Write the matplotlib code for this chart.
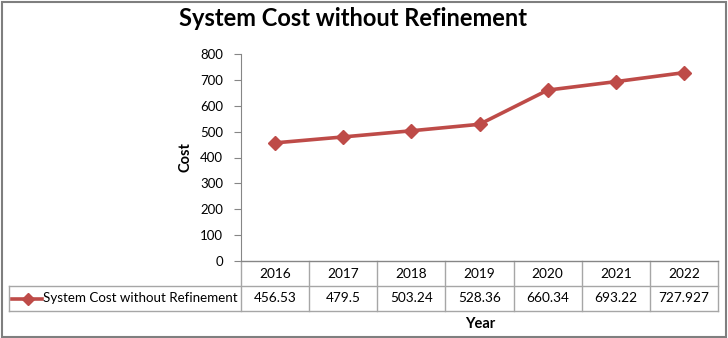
import matplotlib
matplotlib.use("Agg")
import matplotlib.pyplot as plt
import matplotlib.transforms as mtransforms
from matplotlib.lines import Line2D
from matplotlib.patches import Rectangle

years = ["2016", "2017", "2018", "2019", "2020", "2021", "2022"]
cost = [456.53, 479.5, 503.24, 528.36, 660.34, 693.22, 727.927]
cost_labels = ["456.53", "479.5", "503.24", "528.36", "660.34", "693.22", "727.927"]
series_name = "System Cost without Refinement"
title = "System Cost without Refinement"
yticks = [0, 100, 200, 300, 400, 500, 600, 700, 800]

plt.rcParams['font.family'] = ['Lato', 'DejaVu Sans']

W, H = 728, 338
fig = plt.figure(figsize=(W / 100, H / 100), dpi=100)
fig.patch.set_facecolor("white")

def fx(px):
    return px / W

def fy(py):
    return 1 - py / H

left, right, top, bottom = 241, 718, 54, 261
ax = fig.add_axes([fx(left), fy(bottom), fx(right - left), (bottom - top) / H])

line_color = "#BE4B48"
grid_color = "#A6A6A6"
axis_color = "#868686"

x = list(range(len(years)))
ax.plot(x, cost, color=line_color, lw=2.6, marker="D", markersize=7,
        markerfacecolor=line_color, markeredgecolor=line_color, clip_on=False, zorder=3)

ax.set_xlim(-0.5, len(years) - 0.5)
ax.set_ylim(0, 800)
ax.set_yticks(yticks)
ax.set_yticklabels([str(t) for t in yticks], fontsize=9.5)
ax.set_xticks([])
for s in ["top", "right"]:
    ax.spines[s].set_visible(False)
ax.spines["left"].set_color(axis_color)
ax.spines["bottom"].set_color(axis_color)
ax.tick_params(axis="y", direction="out", length=5, color=axis_color, pad=8, labelcolor="#000000")
ax.set_ylabel("Cost", fontsize=10.5, fontweight="bold", labelpad=5)

# Table below the plot
row_h = 25 / (bottom - top)  # in axes fraction
trans = mtransforms.blended_transform_factory(ax.transData, ax.transAxes)
for i in range(len(years) + 1):
    ax.add_line(Line2D([i - 0.5, i - 0.5], [0, -2 * row_h], transform=trans,
                       color=grid_color, lw=1, clip_on=False))
ax.add_line(Line2D([-0.5, len(years) - 0.5], [0, 0], transform=trans,
                   color=grid_color, lw=1, clip_on=False))
for yy in [-row_h, -2 * row_h]:
    ax.add_line(Line2D([fx(9), fx(right)], [fig.transFigure.inverted().transform(
        ax.transAxes.transform((0, yy)))[1]] * 2, transform=fig.transFigure,
        color=grid_color, lw=1, clip_on=False))
y1 = fig.transFigure.inverted().transform(ax.transAxes.transform((0, -row_h)))[1]
y2 = fig.transFigure.inverted().transform(ax.transAxes.transform((0, -2 * row_h)))[1]
fig.add_artist(Line2D([fx(9), fx(9)], [y1, y2], transform=fig.transFigure,
                      color=grid_color, lw=1))

for i, (yr, lab) in enumerate(zip(years, cost_labels)):
    ax.text(i, -0.5 * row_h, yr, transform=trans, ha="center", va="center", fontsize=9.8)
    ax.text(i, -1.5 * row_h, lab, transform=trans, ha="center", va="center", fontsize=9.8)

ym = (y1 + y2) / 2
fig.add_artist(Line2D([fx(12), fx(42)], [ym, ym], transform=fig.transFigure,
                      color=line_color, lw=2.6))
fig.add_artist(Line2D([fx(28)], [ym], transform=fig.transFigure, marker="D",
                      markersize=6, color=line_color))
fig.text(fx(43), ym, series_name, ha="left", va="center", fontsize=9.6)

fig.text(fx(480), fy(324), "Year", ha="center", va="center", fontsize=10.5, fontweight="bold")
fig.text(fx(353), fy(18), title, ha="center", va="center", fontsize=17, fontweight="bold")

fig.add_artist(Rectangle((fx(1.5), fy(336.5)), fx(724.5), (335) / H, transform=fig.transFigure,
                         fill=False, edgecolor="#7F7F7F", lw=1.5))

fig.savefig("out.png", dpi=100, facecolor="white")
